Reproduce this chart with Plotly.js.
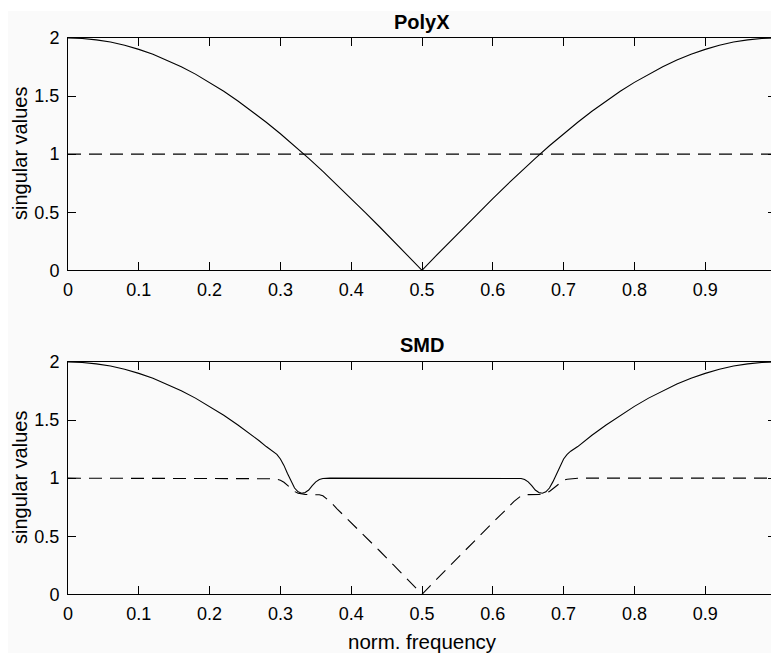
<!DOCTYPE html>
<html>
<head>
<meta charset="utf-8">
<script src="https://cdn.plot.ly/plotly-3.0.1.min.js"></script>
<style>
html, body { margin: 0; padding: 0; background: #ffffff; overflow: hidden; width: 771px; height: 653px; }
#chart { position: absolute; left: 8px; top: 11px; width: 768px; height: 642px; }
</style>
</head>
<body>
<div id="chart"></div>
<script>
// ---- data ----
const polyFreq = [0,0.02,0.04,0.06,0.08,0.10,0.12,0.14,0.16,0.18,0.20,0.22,0.24,0.26,0.28,0.30,0.32,0.34,0.36,0.38,0.40,0.42,0.44,0.46,0.48,0.50,
  0.52,0.54,0.56,0.58,0.60,0.62,0.64,0.66,0.68,0.70,0.72,0.74,0.76,0.78,0.80,0.82,0.84,0.86,0.88,0.90,0.92,0.94,0.96,0.98,1.00];
const polySv1 = [2.000,1.996,1.984,1.965,1.937,1.902,1.860,1.810,1.753,1.689,1.618,1.541,1.458,1.369,1.275,1.176,1.072,0.964,0.852,0.736,0.618,0.497,0.375,0.251,0.126,0.000,
  0.126,0.251,0.375,0.497,0.618,0.736,0.852,0.964,1.072,1.176,1.275,1.369,1.458,1.541,1.618,1.689,1.753,1.810,1.860,1.902,1.937,1.965,1.984,1.996,2.000];
const polySv2 = [1,1,1,1,1,1,1,1,1,1,1,1,1,1,1,1,1,1,1,1,1,1,1,1,1,1,
  1,1,1,1,1,1,1,1,1,1,1,1,1,1,1,1,1,1,1,1,1,1,1,1,1];

const smdFreq = [0,0.02,0.04,0.06,0.08,0.10,0.12,0.14,0.16,0.18,0.20,0.22,0.24,0.26,0.27,0.28,0.29,0.295,0.30,0.305,0.31,0.315,0.32,0.325,0.33,0.335,0.34,0.345,0.35,0.355,0.36,0.37,0.38,0.40,0.42,0.44,0.46,0.48,0.50,
  0.52,0.54,0.56,0.58,0.60,0.62,0.63,0.64,0.645,0.65,0.655,0.66,0.665,0.67,0.675,0.68,0.685,0.69,0.695,0.70,0.705,0.71,0.72,0.73,0.74,0.76,0.78,0.80,0.82,0.84,0.86,0.88,0.90,0.92,0.94,0.96,0.98,1.00];
const smdSv1 = [2.000,1.996,1.984,1.965,1.937,1.902,1.860,1.810,1.753,1.689,1.618,1.541,1.458,1.369,1.322,1.272,1.232,1.205,1.165,1.110,1.040,0.970,0.915,0.882,0.870,0.876,0.898,0.935,0.968,0.988,0.997,1.000,1.000,1.000,1.000,1.000,1.000,1.000,1.000,
  1.000,1.000,1.000,1.000,1.000,1.000,1.000,0.997,0.988,0.968,0.935,0.898,0.876,0.870,0.882,0.915,0.970,1.040,1.110,1.165,1.205,1.232,1.272,1.322,1.369,1.458,1.541,1.618,1.689,1.753,1.810,1.860,1.902,1.937,1.965,1.984,1.996,2.000];
const smdSv2 = [1,1,1,1,1,1,1,1,1,1,1,1,1,1,1.000,0.999,0.995,0.990,0.982,0.965,0.940,0.910,0.885,0.870,0.862,0.860,0.858,0.857,0.858,0.857,0.848,0.800,0.736,0.618,0.497,0.375,0.251,0.126,0.000,
  0.126,0.251,0.375,0.497,0.618,0.736,0.800,0.848,0.857,0.858,0.857,0.858,0.860,0.862,0.870,0.885,0.910,0.940,0.965,0.982,0.990,0.995,0.999,1.000,1,1,1,1,1,1,1,1,1,1,1,1,1,1];

const xTickVals = [0,0.1,0.2,0.3,0.4,0.5,0.6,0.7,0.8,0.9];
const xTickText = ['0','0.1','0.2','0.3','0.4','0.5','0.6','0.7','0.8','0.9'];
const yTickVals = [0,0.5,1,1.5,2];
const yTickText = ['0','0.5','1','1.5','2'];
const titles = ['PolyX','SMD'];
const yLabel = 'singular values';
const xLabel = 'norm. frequency';

// ---- drawing ----
const FONT = '"Liberation Sans", Arial, Helvetica, sans-serif';
const solid = {color: '#000000', width: 1.1};
const dashed = {color: '#000000', width: 1.1, dash: '13px,8px'};

const traces = [
  {x: polyFreq, y: polySv1, xaxis: 'x', yaxis: 'y', mode: 'lines', line: solid, hoverinfo: 'skip'},
  {x: polyFreq, y: polySv2, xaxis: 'x', yaxis: 'y', mode: 'lines', line: dashed, hoverinfo: 'skip'},
  {x: smdFreq, y: smdSv1, xaxis: 'x2', yaxis: 'y2', mode: 'lines', line: solid, hoverinfo: 'skip'},
  {x: smdFreq, y: smdSv2, xaxis: 'x2', yaxis: 'y2', mode: 'lines', line: dashed, hoverinfo: 'skip'}
];

function xAxis(anchor) {
  return {
    anchor: anchor, domain: [0, 1], range: [0, 1], showgrid: false, zeroline: false,
    showline: true, linecolor: '#000', linewidth: 1, mirror: 'ticks',
    ticks: 'inside', ticklen: 8, tickwidth: 1, tickcolor: '#000',
    tickvals: xTickVals, ticktext: xTickText, ticklabelstandoff: 3,
    tickfont: {family: FONT, size: 18, color: '#000'}
  };
}
function yAxis(anchor, dom) {
  return {
    anchor: anchor, domain: dom, range: [0, 2], showgrid: false, zeroline: false,
    showline: true, linecolor: '#000', linewidth: 1, mirror: 'ticks',
    ticks: 'inside', ticklen: 8, tickwidth: 1, tickcolor: '#000',
    tickvals: yTickVals, ticktext: yTickText, ticklabelstandoff: 4,
    tickfont: {family: FONT, size: 18, color: '#000'}
  };
}

const H = 642;
const layout = {
  width: 768, height: 642,
  margin: {l: 60, r: 0, t: 0, b: 0, pad: 0},
  paper_bgcolor: '#fafafa', plot_bgcolor: '#fafafa',
  showlegend: false,
  xaxis: xAxis('y'),
  yaxis: yAxis('x', [1 - 259.3 / H, 1 - 27 / H]),
  xaxis2: xAxis('y2'),
  yaxis2: yAxis('x2', [1 - 583.3 / H, 1 - 351 / H]),
  annotations: [
    {text: '<b>' + titles[0] + '</b>', xref: 'paper', yref: 'paper', x: 0.5, y: 1 - 11 / H, xanchor: 'center', yanchor: 'middle', showarrow: false, font: {family: FONT, size: 20, color: '#000'}},
    {text: '<b>' + titles[1] + '</b>', xref: 'paper', yref: 'paper', x: 0.5, y: 1 - 334 / H, xanchor: 'center', yanchor: 'middle', showarrow: false, font: {family: FONT, size: 20, color: '#000'}},
    {text: yLabel, xref: 'paper', yref: 'paper', x: (12 - 60) / 708, y: 1 - 143 / H, xanchor: 'center', yanchor: 'middle', textangle: -90, showarrow: false, font: {family: FONT, size: 20, color: '#000'}},
    {text: yLabel, xref: 'paper', yref: 'paper', x: (12 - 60) / 708, y: 1 - 467 / H, xanchor: 'center', yanchor: 'middle', textangle: -90, showarrow: false, font: {family: FONT, size: 20, color: '#000'}},
    {text: xLabel, xref: 'paper', yref: 'paper', x: 0.5, y: 1 - 630 / H, xanchor: 'center', yanchor: 'middle', showarrow: false, font: {family: FONT, size: 20.5, color: '#000'}}
  ]
};

Plotly.newPlot('chart', traces, layout, {displayModeBar: false, staticPlot: true});
</script>
</body>
</html>
